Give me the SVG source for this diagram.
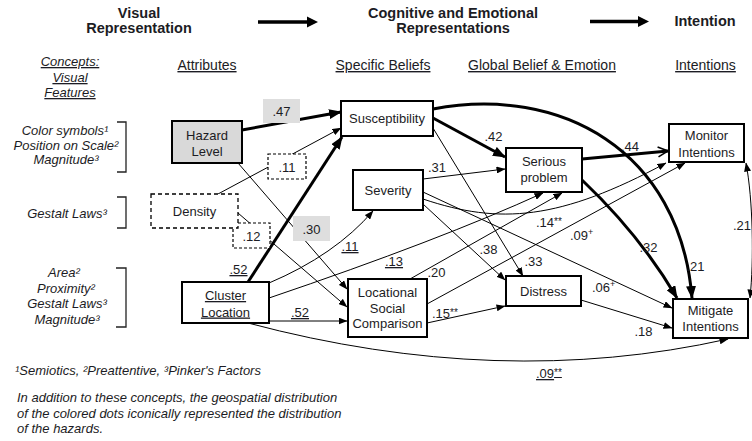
<svg xmlns="http://www.w3.org/2000/svg" width="752" height="441" viewBox="0 0 752 441">
<defs>
<style>
 text{font-family:"Liberation Sans",Arial,sans-serif;fill:#1c1c24}
 .h{font-size:14.5px;font-weight:bold;text-anchor:middle}
 .sh{font-size:14px;text-decoration:underline;text-anchor:middle}
 .it{font-size:13px;font-style:italic;text-anchor:middle}
 .ft{font-size:13px;font-style:italic}
 .n{font-size:13px;text-anchor:middle}
 .w{font-size:13px;text-anchor:middle}
 .ws{font-size:13px}
 .u{text-decoration:underline}
 .box{fill:#fff;stroke:#000;stroke-width:2}
 .gbox{fill:#d9d9d9;stroke:#000;stroke-width:2}
 .dbox{fill:#fff;stroke:#000;stroke-width:1.3;stroke-dasharray:4 3}
 .lbox{fill:#fff;stroke:#000;stroke-width:1.2;stroke-dasharray:3 2}
 .glab{fill:#dedede;stroke:none}
 .thin{fill:none;stroke:#000;stroke-width:1}
 .thick{fill:none;stroke:#000;stroke-width:3}
 .br{fill:none;stroke:#222;stroke-width:1.3}
</style>
<marker id="a" markerUnits="userSpaceOnUse" markerWidth="9" markerHeight="7" refX="8.5" refY="3.5" orient="auto"><path d="M0,0 L9,3.5 L0,7 z" fill="#000"/></marker>
<marker id="as" markerUnits="userSpaceOnUse" markerWidth="9" markerHeight="7" refX="8.5" refY="3.5" orient="auto-start-reverse"><path d="M0,0 L9,3.5 L0,7 z" fill="#000"/></marker>
<marker id="ab" markerUnits="userSpaceOnUse" markerWidth="13" markerHeight="10" refX="12" refY="5" orient="auto"><path d="M0,0 L13,5 L0,10 z" fill="#000"/></marker>
<marker id="ao" markerUnits="userSpaceOnUse" markerWidth="13" markerHeight="12" refX="11" refY="6" orient="auto"><path d="M1,1 L11,6 L1,11" fill="none" stroke="#000" stroke-width="1.6"/></marker>
</defs>
<rect width="752" height="441" fill="#fff"/>

<g id="headers">
 <text class="h" x="139" y="18">Visual</text>
 <text class="h" x="139" y="33">Representation</text>
 <text class="h" x="453" y="18">Cognitive and Emotional</text>
 <text class="h" x="453" y="33">Representations</text>
 <text class="h" x="705" y="26">Intention</text>
 <line x1="258" y1="22" x2="309" y2="22" stroke="#000" stroke-width="3.5"/>
 <polygon points="307,16.5 318,22 307,27.5" fill="#000"/>
 <line x1="590" y1="21.5" x2="640" y2="21.5" stroke="#000" stroke-width="3.5"/>
 <polygon points="638,16 649,21.5 638,27" fill="#000"/>
 <text class="it" x="70" y="66" text-decoration="underline">Concepts:</text>
 <text class="it" x="70" y="82" text-decoration="underline">Visual</text>
 <text class="it" x="70" y="97" text-decoration="underline">Features</text>
 <text class="sh" x="207" y="70">Attributes</text>
 <text class="sh" x="383" y="70">Specific Beliefs</text>
 <text class="sh" x="542" y="70">Global Belief &amp; Emotion</text>
 <text class="sh" x="705.5" y="70">Intentions</text>
</g>

<g id="features">
 <text class="it" x="65" y="135">Color symbols¹</text>
 <text class="it" x="66" y="149.5">Position on Scale²</text>
 <text class="it" x="66" y="164">Magnitude³</text>
 <path class="br" d="M117,122 H126 V172 H117"/>
 <text class="it" x="67" y="218">Gestalt Laws³</text>
 <path class="br" d="M117,197 H126 V228 H117"/>
 <text class="it" x="64" y="277">Area²</text>
 <text class="it" x="66" y="292.5">Proximity²</text>
 <text class="it" x="67" y="308">Gestalt Laws³</text>
 <text class="it" x="67" y="323.5">Magnitude³</text>
 <path class="br" d="M116,268 H126 V327 H116"/>
 <text class="ft" x="15" y="375">¹Semiotics, ²Preattentive, ³Pinker's Factors</text>
 <text class="ft" x="17" y="402">In addition to these concepts, the geospatial distribution</text>
 <text class="ft" x="17" y="417.5">of the colored dots iconically represented the distribution</text>
 <text class="ft" x="17" y="433">of the hazards.</text>
</g>

<g id="connectors">
 <path class="thick" d="M242,130 L341,112" marker-end="url(#ab)"/>
 <path class="thin" d="M218,194 L341,128" marker-end="url(#a)"/>
 <path class="thin" d="M238,163 L347,289" marker-end="url(#a)"/>
 <path class="thin" d="M238,213 L347,307" marker-end="url(#a)"/>
 <path class="thick" d="M248,282 L342,137" marker-end="url(#ab)"/>
 <path class="thin" d="M269,283 Q335,255 373,211" marker-end="url(#a)"/>
 <path class="thin" d="M269,298 Q440,240 543,193" marker-end="url(#a)"/>
 <path class="thin" d="M269,321 L347,321" marker-end="url(#a)"/>
 <path class="thin" d="M248,323 Q500,390 728,339" marker-end="url(#a)"/>
 <path class="thick" d="M433,118 L505,157" marker-end="url(#ab)"/>
 <path class="thick" d="M433,109 C560,85 680,150 692,298" marker-end="url(#ab)"/>
 <path class="thin" d="M433,128 L523,276" marker-end="url(#a)"/>
 <path class="thin" d="M423,179 L505,169" marker-end="url(#a)"/>
 <path class="thin" d="M423,192 L672,308" marker-end="url(#a)"/>
 <path class="thin" d="M423,199 C500,225 560,220 666,163" marker-end="url(#a)"/>
 <path class="thin" d="M423,204 L505,280" marker-end="url(#a)"/>
 <path class="thick" d="M582,159 L668,151" marker-end="url(#ao)"/>
 <path class="thick" d="M582,180 Q640,235 677,298" marker-end="url(#ab)"/>
 <path class="thin" d="M410,279 L562,193" marker-end="url(#a)"/>
 <path class="thin" d="M427,304 L685,163" marker-end="url(#a)"/>
 <path class="thin" d="M427,323 L505,306" marker-end="url(#a)"/>
 <path class="thin" d="M581,300 L672,328" marker-end="url(#a)"/>
 <path class="thin" d="M746,163 C753,200 754,260 750,298" marker-start="url(#as)" marker-end="url(#a)"/>
</g>

<g id="labels">
 <rect class="glab" x="263" y="99" width="37" height="24"/>
 <text class="w" x="281.5" y="116">.47</text>
 <rect class="lbox" x="268" y="154" width="38" height="25"/>
 <text class="w" x="287" y="172">.11</text>
 <rect class="lbox" x="233" y="223" width="37" height="25"/>
 <text class="w" x="251.5" y="241">.12</text>
 <rect class="glab" x="293" y="216" width="37" height="25"/>
 <text class="w" x="311.5" y="234">.30</text>
 <text class="w u" x="238.5" y="274">.52</text>
 <text class="w u" x="350" y="251">.11</text>
 <text class="w u" x="394" y="266">.13</text>
 <text class="w u" x="300" y="317">.52</text>
 <text class="ws u" x="536" y="378">.09<tspan font-size="10" dy="-2">**</tspan></text>
 <text class="w" x="493.5" y="141">.42</text>
 <text class="w" x="437" y="172">.31</text>
 <text class="w" x="488.5" y="254">.38</text>
 <text class="w" x="533.5" y="266">.33</text>
 <text class="w" x="436.5" y="277">.20</text>
 <text class="ws" x="536" y="227">.14<tspan font-size="10" dy="-2">**</tspan></text>
 <text class="ws" x="570" y="240">.09<tspan font-size="9" dy="-5">+</tspan></text>
 <text class="ws" x="432" y="318">.15<tspan font-size="10" dy="-2">**</tspan></text>
 <text class="ws" x="592" y="292">.06<tspan font-size="9" dy="-5">+</tspan></text>
 <text class="w" x="643.5" y="336">.18</text>
 <text class="w" x="648.5" y="252">.32</text>
 <text class="w" x="695.5" y="271">.21</text>
 <text class="w" x="630" y="151">.44</text>
 <text class="ws" x="733" y="230">.21</text>
</g>

<g id="hazard-level">
 <rect class="gbox" x="172" y="121" width="70" height="42"/>
 <text class="n" x="207" y="140">Hazard</text>
 <text class="n" x="207" y="156">Level</text>
</g>
<g id="density">
 <rect class="dbox" x="151" y="194" width="87" height="34"/>
 <text class="n" x="194.5" y="215.5">Density</text>
</g>
<g id="cluster-location">
 <rect class="box" x="182" y="282" width="87" height="41"/>
 <text class="n u" x="225.5" y="300">Cluster</text>
 <text class="n u" x="225.5" y="316.5">Location</text>
</g>
<g id="susceptibility">
 <rect class="box" x="341" y="101" width="92" height="35"/>
 <text class="n" x="387" y="122.5">Susceptibility</text>
</g>
<g id="severity">
 <rect class="box" x="353" y="170" width="70" height="40"/>
 <text class="n" x="388" y="194.5">Severity</text>
</g>
<g id="locational-social-comparison">
 <rect class="box" x="348" y="279" width="79" height="58"/>
 <text class="n" x="387.5" y="297">Locational</text>
 <text class="n" x="387.5" y="312.5">Social</text>
 <text class="n" x="387.5" y="328">Comparison</text>
</g>
<g id="serious-problem">
 <rect class="box" x="506" y="148" width="76" height="44"/>
 <text class="n" x="544" y="166">Serious</text>
 <text class="n" x="544" y="182">problem</text>
</g>
<g id="distress">
 <rect class="box" x="506" y="276" width="75" height="30"/>
 <text class="n" x="543.5" y="295.5">Distress</text>
</g>
<g id="monitor-intentions">
 <rect class="box" x="669" y="124" width="75" height="38"/>
 <text class="n" x="706.5" y="140">Monitor</text>
 <text class="n" x="706.5" y="156.5">Intentions</text>
</g>
<g id="mitigate-intentions">
 <rect class="box" x="673" y="299" width="75" height="39"/>
 <text class="n" x="710.5" y="314.5">Mitigate</text>
 <text class="n" x="710.5" y="331">Intentions</text>
</g>
</svg>
